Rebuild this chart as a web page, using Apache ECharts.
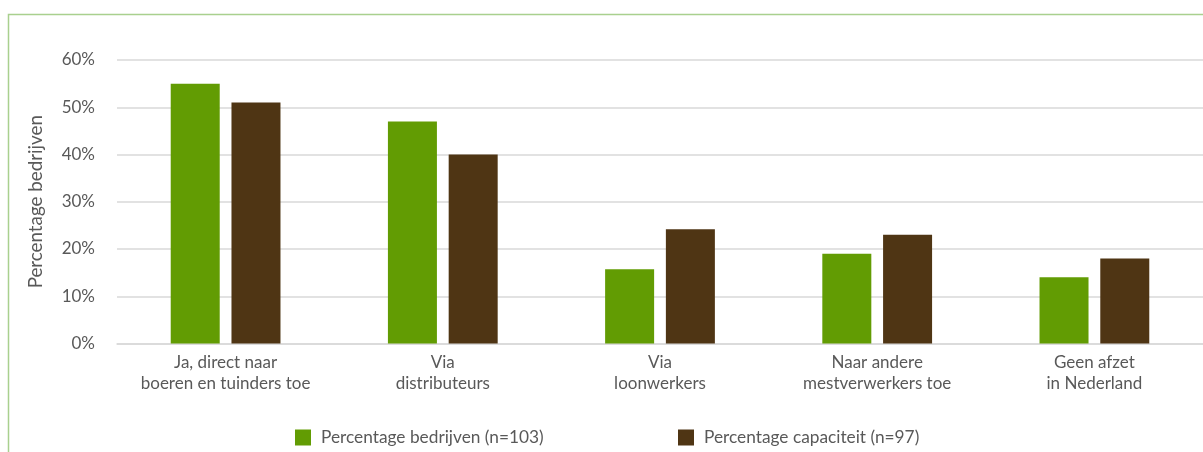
<!DOCTYPE html>
<html>
<head>
<meta charset="utf-8">
<script src="https://cdn.jsdelivr.net/npm/echarts@6/dist/echarts.min.js"></script>
<style>
  html, body { margin: 0; padding: 0; background: #ffffff; }
  #chart { width: 1203px; height: 452px; }
</style>
</head>
<body>
<div id="chart"></div>
<script>
// Afzetkanalen: aandeel bedrijven en aandeel capaciteit
const categories = [
  'Ja, direct naar\nboeren en tuinders toe',
  'Via\ndistributeurs',
  'Via\nloonwerkers',
  'Naar andere\nmestverwerkers toe',
  'Geen afzet\nin Nederland'
];
const seriesNames = ['Percentage bedrijven (n=103)', 'Percentage capaciteit (n=97)'];
const bedrijven = [55, 47, 15.7, 19, 14];
const capaciteit = [51, 40, 24.2, 23, 18];
const yTicks = [0, 10, 20, 30, 40, 50, 60];

const textColor = '#595959';
const fontFamily = 'Lato, "Open Sans", sans-serif';
const colors = ['#629c03', '#4f3514'];

const legendBase = {
  top: 429,
  padding: 0,
  itemWidth: 16,
  itemHeight: 16,
  icon: 'rect',
  textStyle: { fontSize: 17.3, color: textColor, fontFamily: fontFamily, padding: [0, 0, 0, 5] }
};

const chart = echarts.init(document.getElementById('chart'));
chart.setOption({
  animation: false,
  color: colors,
  textStyle: { fontFamily: fontFamily, color: textColor },
  graphic: [{
    type: 'rect',
    shape: { x: 8.5, y: 14.5, width: 1400, height: 600 },
    style: { fill: 'none', stroke: '#a9d08e', lineWidth: 1.5 },
    silent: true,
    z: -1
  }],
  grid: { left: 117, right: 0, top: 60, bottom: 108.5, containLabel: false },
  legend: [
    Object.assign({ data: [seriesNames[0]], left: 295 }, legendBase),
    Object.assign({ data: [seriesNames[1]], left: 678 }, legendBase)
  ],
  xAxis: {
    type: 'category',
    data: categories,
    axisTick: { show: false },
    axisLine: { show: true, lineStyle: { color: '#d9d9d9', width: 1.5 } },
    axisLabel: {
      fontSize: 17,
      color: textColor,
      lineHeight: 21,
      margin: 9,
      interval: 0
    }
  },
  yAxis: {
    type: 'value',
    min: yTicks[0],
    max: yTicks[yTicks.length - 1],
    interval: 10,
    name: 'Percentage bedrijven',
    nameLocation: 'middle',
    nameGap: 72,
    nameRotate: 90,
    nameTextStyle: { fontSize: 18.8, color: textColor },
    axisLine: { show: false },
    axisTick: { show: false },
    splitLine: { lineStyle: { color: '#d9d9d9', width: 1.5 } },
    axisLabel: {
      fontSize: 17,
      color: textColor,
      margin: 22,
      formatter: v => v + '%'
    }
  },
  series: [
    {
      name: seriesNames[0],
      type: 'bar',
      data: bedrijven,
      barWidth: 49,
      barGap: '24%',
      itemStyle: { color: colors[0] }
    },
    {
      name: seriesNames[1],
      type: 'bar',
      data: capaciteit,
      barWidth: 49,
      barGap: '24%',
      itemStyle: { color: colors[1] }
    }
  ]
});
</script>
</body>
</html>
